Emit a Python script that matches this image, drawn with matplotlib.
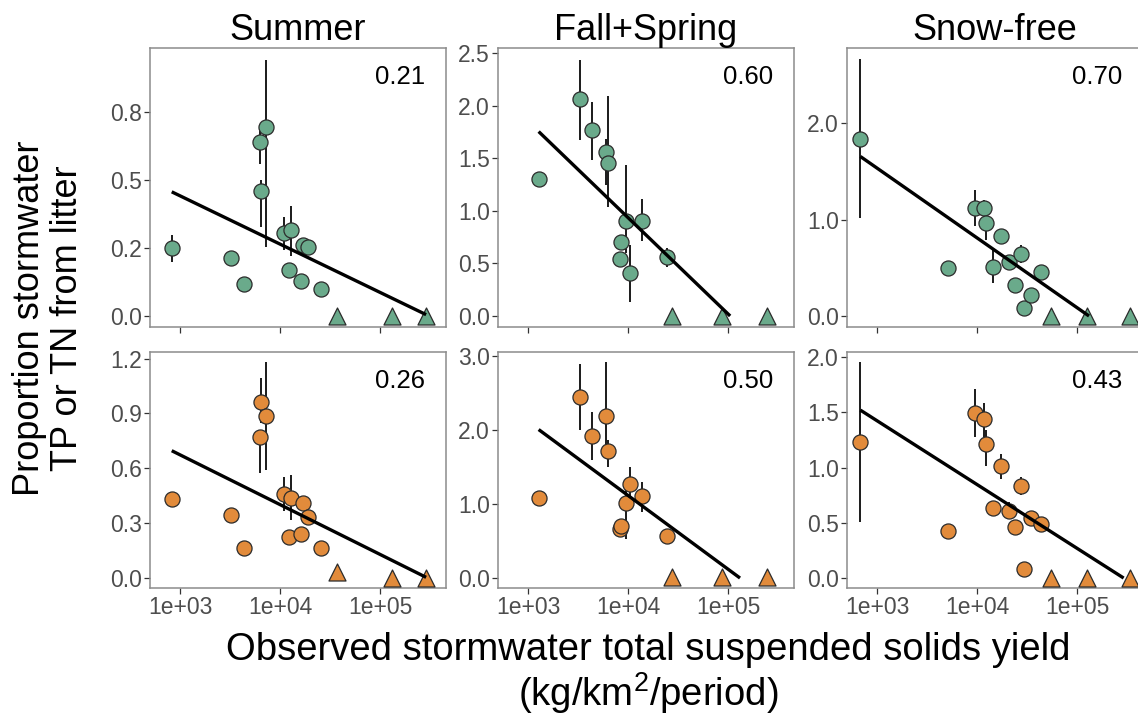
import numpy as np
import matplotlib.pyplot as plt
from matplotlib.ticker import FixedLocator, NullLocator

plt.rcParams['font.family'] = ['Liberation Sans', 'DejaVu Sans']
plt.rcParams['mathtext.fontset'] = 'custom'
plt.rcParams['mathtext.rm'] = 'Liberation Sans'

nan = np.nan

seasons = ['Summer', 'Fall+Spring', 'Snow-free']
r2_text = [['0.21', '0.60', '0.70'],
           ['0.26', '0.50', '0.43']]

# TSS yield per site (same sites in both rows)
summer_x = [826, 3214, 4395, 6240, 6460, 7244, 10965, 12800, 12300, 16100, 16700, 19100, 25700]
fall_x = [1276, 3311, 4365, 5984, 6252, 8222, 8414, 9441, 10471, 13836, 24547]
snow_x = [682, 5105, 9550, 11561, 12218, 14355, 17219, 20989, 23933, 27479, 29242, 34277, 43451]

# top row (green)
summer_tp = [0.249, 0.212, 0.118, 0.641, 0.461, 0.696, 0.306, 0.316, 0.169, 0.130, 0.261, 0.255, 0.099]
summer_tp_lo = [0.20, nan, nan, 0.559, 0.328, 0.255, 0.243, 0.221, nan, nan, nan, nan, nan]
summer_tp_hi = [0.298, nan, nan, 0.70, 0.50, 0.941, 0.365, 0.405, nan, nan, nan, nan, nan]
fall_tp = [1.30, 2.06, 1.765, 1.565, 1.46, 0.54, 0.708, 0.905, 0.413, 0.908, 0.559]
fall_tp_lo = [nan, 1.676, 1.48, 1.25, 1.04, nan, nan, 0.6, 0.136, 0.71, 0.47]
fall_tp_hi = [nan, 2.44, 2.04, 1.68, 2.09, nan, nan, 1.438, 0.676, 1.11, 0.645]
snow_tp = [1.838, 0.495, 1.118, 1.118, 0.962, 0.512, 0.83, 0.564, 0.322, 0.644, 0.086, 0.218, 0.453]
snow_tp_lo = [1.015, nan, 0.93, 1.03, 0.79, 0.34, nan, 0.49, nan, 0.547, nan, nan, nan]
snow_tp_hi = [2.666, nan, 1.31, 1.2, 1.066, 0.685, nan, 0.62, nan, 0.737, nan, nan, nan]

# bottom row (orange)
summer_tn = [0.431, 0.345, 0.164, 0.769, 0.963, 0.885, 0.46, 0.436, 0.224, 0.242, 0.412, 0.331, 0.164]
summer_tn_lo = [nan, nan, nan, 0.573, 0.85, 0.59, 0.363, 0.318, nan, nan, nan, nan, nan]
summer_tn_hi = [nan, nan, nan, 0.80, 1.091, 1.18, 0.554, 0.564, nan, nan, nan, nan, nan]
fall_tn = [1.08, 2.45, 1.92, 2.20, 1.72, 0.66, 0.70, 1.01, 1.27, 1.115, 0.571]
fall_tn_lo = [nan, 2.0, 1.6, 1.73, 1.5, nan, nan, 0.53, 1.1, 0.9, nan]
fall_tn_hi = [nan, 2.90, 2.25, 2.92, 1.87, nan, nan, 1.2, 1.5, 1.30, nan]
snow_tn = [1.233, 0.43, 1.489, 1.435, 1.209, 0.637, 1.013, 0.607, 0.466, 0.836, 0.084, 0.547, 0.487]
snow_tn_lo = [0.511, nan, 1.273, 1.28, 1.01, 0.56, 0.9, 0.538, nan, 0.752, nan, nan, nan]
snow_tn_hi = [1.955, nan, 1.706, 1.58, 1.34, 0.70, 1.122, 0.689, nan, 0.917, nan, nan, nan]

# sites with zero litter contribution (triangles)
summer_zero_x = [36900, 131000, 286000]
fall_zero_x = [27100, 87100, 244000]
snow_zero_x = [54700, 124200, 335000]
zero_tp = [0, 0, 0]
summer_zero_tn = [0.03, 0, 0]
fall_zero_tn = [0.02, 0.02, 0.02]
snow_zero_tn = [0, 0, 0]

# fitted line y = a + b*log10(x)
fit_a = [[0.975, 4.606, 3.709], [1.492, 5.116, 3.157]]
fit_b = [[-0.1777, -0.918, -0.725], [-0.273, -1.0, -0.578]]

ylims = [[(-0.04, 0.985), (-0.105, 2.55), (-0.114, 2.78)],
         [(-0.056, 1.236), (-0.135, 3.06), (-0.09, 2.045)]]
yticks = [[[0, 0.25, 0.5, 0.75], [0, 0.5, 1, 1.5, 2, 2.5], [0, 1, 2]],
          [[0, 0.3, 0.6, 0.9, 1.2], [0, 1, 2, 3], [0, 0.5, 1, 1.5, 2]]]

xs = [summer_x, fall_x, snow_x]
zero_xs = [summer_zero_x, fall_zero_x, snow_zero_x]
ys = [[summer_tp, fall_tp, snow_tp], [summer_tn, fall_tn, snow_tn]]
los = [[summer_tp_lo, fall_tp_lo, snow_tp_lo], [summer_tn_lo, fall_tn_lo, snow_tn_lo]]
his = [[summer_tp_hi, fall_tp_hi, snow_tp_hi], [summer_tn_hi, fall_tn_hi, snow_tn_hi]]
zero_ys = [[zero_tp, zero_tp, zero_tp], [summer_zero_tn, fall_zero_tn, snow_zero_tn]]
fills = ['#6aaa8b', '#e28b3b']

W, H = 1138, 719
fig = plt.figure(figsize=(W / 100, H / 100), dpi=100)

lefts = [150, 498, 847]
rows = [(48, 327), (352, 588)]
pw = 296

for r in range(2):
    top, bot = rows[r]
    for c in range(3):
        ax = fig.add_axes([lefts[c] / W, 1 - bot / H, pw / W, (bot - top) / H])
        x = np.array(xs[c], dtype=float)
        y = np.array(ys[r][c])
        lo = np.array(los[r][c])
        hi = np.array(his[r][c])
        ok = ~np.isnan(lo)
        ax.vlines(x[ok], lo[ok], hi[ok], color='#1a1a1a', lw=1.4, zorder=2)
        ax.scatter(x, y, s=118, c=fills[r], edgecolors='#2b2b2b', linewidths=0.9, zorder=3)
        ax.scatter(zero_xs[c], zero_ys[r][c], s=150, marker='^', c=fills[r],
                   edgecolors='#2b2b2b', linewidths=0.9, zorder=3)

        allx = np.concatenate([x, zero_xs[c]])
        a, b = fit_a[r][c], fit_b[r][c]
        lx0 = np.log10(allx.min())
        lx1 = min(np.log10(allx.max()), -a / b)
        lx = np.array([lx0, lx1])
        ax.plot(10 ** lx, a + b * lx, color='black', lw=2.4, zorder=4, solid_capstyle='butt')

        ax.set_xscale('log')
        ax.set_xlim(10 ** 2.70, 10 ** 5.655)
        ax.set_ylim(*ylims[r][c])
        ax.xaxis.set_major_locator(FixedLocator([1e3, 1e4, 1e5]))
        ax.xaxis.set_minor_locator(NullLocator())
        ax.set_yticks(yticks[r][c])
        ax.set_yticklabels(['%.1f' % v for v in yticks[r][c]])
        if r == 0:
            ax.set_xticklabels([])
        else:
            ax.set_xticklabels(['1e+03', '1e+04', '1e+05'])
        ax.tick_params(labelsize=16.5, labelcolor='#4d4d4d', color='#333333',
                       length=4, width=0.9, pad=2)
        for s in ax.spines.values():
            s.set_color('#8c8c8c')
            s.set_linewidth(1.1)

        ax.annotate(r2_text[r][c], xy=(1, 1), xycoords='axes fraction',
                    xytext=(-21, -29), textcoords='offset pixels',
                    ha='right', va='center', fontsize=18.5, color='black')
        if r == 0:
            ax.set_title(seasons[c], fontsize=26, pad=3)

fig.text(30 / W, 1 - 318 / H, 'Proportion stormwater', rotation=90,
         ha='center', va='center', fontsize=26)
fig.text(68 / W, 1 - 318 / H, 'TP or TN from litter', rotation=90,
         ha='center', va='center', fontsize=26)
fig.text(648 / W, 1 - 650 / H, 'Observed stormwater total suspended solids yield',
         ha='center', va='center', fontsize=27.5)
fig.text(648 / W, 1 - 693 / H, '(kg/km$^\\mathrm{2}$/period)',
         ha='center', va='center', fontsize=27.5)

fig.savefig('out.png', dpi=100)
